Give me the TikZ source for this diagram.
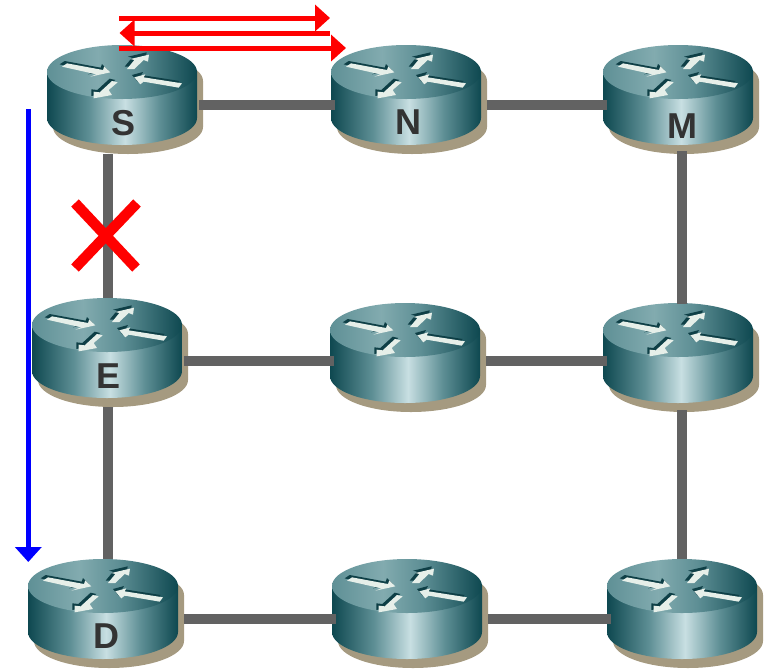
\documentclass[tikz,border=0pt]{standalone}
\usepackage{fontspec}
\setmainfont{Liberation Sans}
\usetikzlibrary{arrows.meta}
\definecolor{rdark}{HTML}{0E4850}
\definecolor{rmid}{HTML}{5E8F95}
\definecolor{rlight}{HTML}{C8DFE2}
\definecolor{rtopl}{HTML}{5F9096}
\definecolor{rtopm}{HTML}{82ABAF}
\definecolor{rshadow}{HTML}{A59A80}
\definecolor{rarrow}{HTML}{E6EFE9}
\definecolor{rarrowd}{HTML}{0E3F46}
\definecolor{linkgray}{HTML}{626262}
\definecolor{labelgray}{HTML}{333333}
\pgfdeclarehorizontalshading{rside}{100bp}{color(0bp)=(rdark);color(25bp)=(rdark);color(39bp)=(rmid);color(51bp)=(rlight);color(62.5bp)=(rmid);color(75bp)=(rdark);color(100bp)=(rdark)}
\pgfdeclarehorizontalshading{rtop}{100bp}{color(0bp)=(rtopl);color(25bp)=(rtopl);color(42bp)=(rtopm);color(55bp)=(rmid);color(75bp)=(rdark);color(100bp)=(rdark)}
\tikzset{
  routerbox/.style={minimum width=150pt,minimum height=109pt,inner sep=0pt,outer sep=0pt},
  rlabel/.style={font=\fontsize{36}{36}\selectfont\bfseries,text=labelgray,inner sep=0pt},
  link/.style={draw=linkgray,line width=10.5pt},
  hlink/.style={link,shorten <=6pt,shorten >=-4pt},
  hlinkb/.style={link,shorten <=2pt,shorten >=-4pt},
  redarrow/.style={draw=red,line width=5pt,-{Triangle[length=15pt,width=26pt]}},
  bluearrow/.style={draw=blue,line width=5pt,-{Triangle[length=15pt,width=26pt]}},
  cross/.style={draw=red,line width=10.5pt},
}
\newcommand{\glyph}[1]{%
  \fill[rarrowd,shift={(-7,-7)}] #1 -- cycle;
  \fill[rarrow] #1 -- cycle;}
\newcommand{\router}[3]{% name, left, top
  \node[routerbox,anchor=north west] (#1) at (#2,#3) {};
  \begin{scope}[shift={(#2,#3)}]
    \fill[rshadow] (6,36) arc[start angle=180,end angle=360,x radius=75,y radius=27]
      -- (156,82) arc[start angle=0,end angle=180,x radius=75,y radius=27] -- cycle;
    \shade[shading=rside] (0,27) -- (0,73) arc[start angle=180,end angle=0,x radius=75,y radius=27] -- (150,27) -- cycle;
    \shade[shading=rtop] (75,27) ellipse[x radius=75,y radius=27];
    \begin{scope}[x=0.3333pt,y=-0.3333pt]
      \glyph{(45,65) -- (60,55) -- (168,75) -- (172,64) -- (190,82) -- (130,95) -- (148,88)}
      \glyph{(240,72) -- (262,45) -- (250,42) -- (306,29) -- (303,50) -- (290,45) -- (262,72)}
      \glyph{(212,112) -- (185,135) -- (195,150) -- (140,160) -- (140,140) -- (158,142) -- (195,108)}
      \glyph{(262,97) -- (295,88) -- (290,97) -- (405,115) -- (395,128) -- (290,110) -- (280,118)}
    \end{scope}
  \end{scope}}
\begin{document}
\begin{tikzpicture}[x=1pt,y=-1pt]
\useasboundingbox (0,0) rectangle (765,670);
\router{S}{47}{45}
\router{N}{331}{45}
\router{M}{603}{45}
\router{E}{32}{298}
\router{C}{330}{303}
\router{R}{603}{303}
\router{D}{28}{559}
\router{B}{332}{559}
\router{T}{607}{559}
% links
\draw[hlinkb] ([yshift=-5.5pt]S.east) -- ([yshift=-5.5pt]N.west);
\draw[hlink] ([yshift=-5.5pt]N.east) -- ([yshift=-5.5pt]M.west);
\draw[link] ([xshift=1pt]S.south -| E.north) -- ([xshift=1pt]E.north);
\draw[link] ([xshift=1pt]E.south) -- ([xshift=1pt]E.south |- D.north);
\draw[hlinkb] ([yshift=-8.5pt]E.east) -- ([yshift=-8.5pt]E.east -| C.west);
\draw[hlink] ([yshift=-3.5pt]C.east) -- ([yshift=-3.5pt]R.west);
\draw[link] ([yshift=3pt]M.south -| T.north) -- ([yshift=-1pt]R.north -| T.north);
\draw[link] ([yshift=2pt]R.south -| T.north) -- (T.north);
\draw[hlink] ([yshift=-5.5pt]D.east) -- ([yshift=-5.5pt]B.west);
\draw[hlink] ([yshift=-5.5pt]B.east) -- ([yshift=-5.5pt]T.west);
% labels
\node[rlabel] (Sl) at (124,123) {S};
\node[rlabel] (Nl) at (408,122) {N};
\node[rlabel] (Ml) at (682,126) {M};
\node[rlabel] (El) at (109,376) {E};
\node[rlabel] (Dl) at (106,636) {D};
% red arrows
\coordinate (a1) at (119,18); \coordinate (a2) at (330,18);
\coordinate (b1) at (330,33); \coordinate (b2) at (119.5,33);
\coordinate (c1) at (119,48); \coordinate (c2) at (346,48);
\draw[redarrow] (a1) -- (a2);
\draw[redarrow] (b1) -- (b2);
\draw[redarrow] (c1) -- (c2);
% blue arrow
\coordinate (v1) at (28.3,109); \coordinate (v2) at (28.3,562);
\draw[bluearrow] (v1) -- (v2);
% cross
\coordinate (x1) at (75,203); \coordinate (x2) at (136,268);
\coordinate (x3) at (137,203); \coordinate (x4) at (75,268);
\draw[cross] (x1) -- (x2);
\draw[cross] (x3) -- (x4);
\end{tikzpicture}
\end{document}
